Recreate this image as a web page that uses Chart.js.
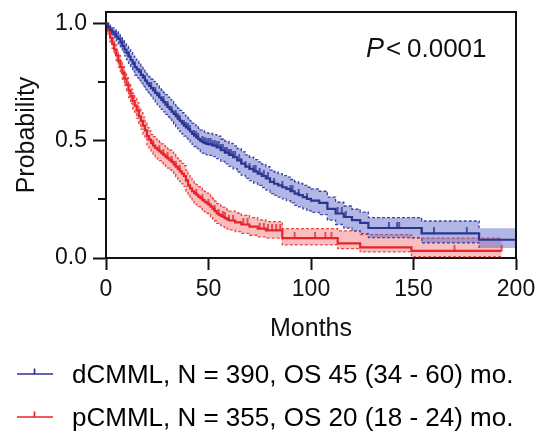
<!DOCTYPE html>
<html>
<head>
<meta charset="utf-8">
<script src="https://cdn.jsdelivr.net/npm/chart.js@4.4.1/dist/chart.umd.min.js"></script>
<style>
  html, body { margin: 0; padding: 0; background: #fff; overflow: hidden; }
</style>
</head>
<body>
<canvas id="km" width="539" height="438"></canvas>
<script>
// dCMML (blue): Kaplan-Meier steps
const blueTimes = [0, 1, 2, 3, 4, 5, 6, 7, 8, 9, 10, 11, 12, 13, 14, 15, 16, 17, 18, 19, 20, 21, 22, 23, 24, 25, 26,
  27, 28, 29, 30, 31, 32, 33, 34, 35, 36, 37, 38, 39, 40, 41, 42, 43, 44, 45, 46, 47, 48, 49, 50,
  52, 54, 56, 58, 60, 62, 64, 66, 68, 70, 72, 74, 76, 78, 80, 82, 84, 86, 88, 90, 92, 94, 96, 98, 100,
  104, 108, 112, 116, 120, 124, 128, 154, 182, 200];
const blueSurv = [1, 0.985, 0.975, 0.965, 0.955, 0.945, 0.935, 0.92, 0.905, 0.89, 0.875, 0.86, 0.845, 0.83, 0.815,
  0.805, 0.795, 0.782, 0.77, 0.757, 0.745, 0.735, 0.725, 0.715, 0.705, 0.695, 0.685, 0.675, 0.665, 0.655, 0.645,
  0.635, 0.625, 0.615, 0.605, 0.595, 0.585, 0.575, 0.565, 0.557, 0.55, 0.54, 0.53, 0.522, 0.515, 0.507, 0.5, 0.495,
  0.49, 0.487, 0.485,
  0.48, 0.472, 0.46, 0.45, 0.44, 0.43, 0.417, 0.403, 0.39, 0.38, 0.37, 0.36, 0.35, 0.34, 0.325, 0.317, 0.31, 0.302,
  0.295, 0.285, 0.275, 0.268, 0.26, 0.252, 0.245,
  0.235, 0.21, 0.19, 0.175, 0.162, 0.15, 0.128, 0.105, 0.078, 0.078];
const blueLow = [1, 0.975, 0.962, 0.948, 0.937, 0.925, 0.912, 0.896, 0.88, 0.863, 0.847, 0.831, 0.814, 0.798, 0.781,
  0.77, 0.759, 0.746, 0.733, 0.72, 0.708, 0.697, 0.687, 0.676, 0.666, 0.655, 0.645, 0.634, 0.624, 0.613, 0.603,
  0.593, 0.582, 0.572, 0.561, 0.551, 0.54, 0.53, 0.52, 0.512, 0.505, 0.495, 0.485, 0.476, 0.469, 0.461, 0.454, 0.448,
  0.443, 0.44, 0.438,
  0.433, 0.424, 0.412, 0.402, 0.391, 0.381, 0.367, 0.353, 0.34, 0.33, 0.32, 0.31, 0.3, 0.29, 0.275, 0.267, 0.26, 0.252,
  0.245, 0.235, 0.225, 0.218, 0.21, 0.202, 0.195,
  0.185, 0.162, 0.143, 0.128, 0.116, 0.104, 0.087, 0.065, 0.043, 0.043];
const blueHigh = [1, 0.995, 0.988, 0.982, 0.973, 0.965, 0.958, 0.944, 0.93, 0.917, 0.903, 0.889, 0.876, 0.862, 0.849,
  0.84, 0.831, 0.818, 0.807, 0.794, 0.782, 0.773, 0.763, 0.754, 0.744, 0.735, 0.725, 0.716, 0.706, 0.697, 0.687,
  0.677, 0.668, 0.658, 0.649, 0.639, 0.63, 0.62, 0.61, 0.602, 0.595, 0.585, 0.575, 0.568, 0.561, 0.553, 0.546, 0.542,
  0.537, 0.534, 0.532,
  0.527, 0.52, 0.508, 0.498, 0.489, 0.479, 0.467, 0.453, 0.44, 0.43, 0.42, 0.41, 0.4, 0.39, 0.375, 0.367, 0.36, 0.352,
  0.345, 0.335, 0.325, 0.318, 0.31, 0.302, 0.295,
  0.285, 0.26, 0.238, 0.222, 0.208, 0.196, 0.172, 0.158, 0.127, 0.127];
const blueCensored = [5, 8, 11, 14, 17, 19, 22, 24, 26, 28, 30, 32, 34, 35, 36, 38, 39, 40, 41, 43, 44, 45, 47, 48, 49,
  50, 51, 52, 53, 54, 55, 56, 57, 58, 59, 60, 61, 62, 63, 65, 66, 68, 70, 72, 73, 75, 77, 79, 82, 86, 90, 91, 94, 98,
  113, 115, 117, 138, 142, 143, 154, 160, 176];
const blueDashEnd = 182; // CI lines stop here, the band goes on to the edge

// pCMML (red)
const redTimes = [0, 1, 2, 3, 4, 5, 6, 7, 8, 9, 10, 11, 12, 13, 14, 15, 16, 17, 18, 19, 20,
  21, 22, 23, 24, 25, 26, 27, 28, 29, 30, 31, 32, 33, 34, 35, 36, 37, 38, 39, 40,
  41, 42, 43, 44, 45, 46, 47, 48, 49, 50, 51, 52, 53, 54, 55, 56, 57, 58, 59, 60,
  63, 66, 70, 74, 78, 86, 113, 124, 149, 193];
const redSurv = [1, 0.97, 0.94, 0.915, 0.89, 0.865, 0.84, 0.815, 0.79, 0.765, 0.74, 0.715, 0.69, 0.67, 0.65, 0.63,
  0.605, 0.585, 0.565, 0.545, 0.52,
  0.505, 0.49, 0.48, 0.47, 0.462, 0.455, 0.447, 0.44, 0.432, 0.425, 0.418, 0.41, 0.4, 0.39, 0.38, 0.37, 0.36, 0.35,
  0.33, 0.31,
  0.297, 0.285, 0.277, 0.27, 0.262, 0.255, 0.247, 0.24, 0.234, 0.228, 0.219, 0.21, 0.2, 0.19, 0.185, 0.18, 0.175,
  0.17, 0.165, 0.16,
  0.152, 0.143, 0.134, 0.125, 0.118, 0.085, 0.062, 0.045, 0.03, 0.03];
const redLow = [1, 0.955, 0.922, 0.895, 0.868, 0.841, 0.815, 0.789, 0.763, 0.737, 0.711, 0.685, 0.659, 0.638, 0.617,
  0.596, 0.57, 0.55, 0.529, 0.509, 0.483,
  0.468, 0.453, 0.442, 0.432, 0.423, 0.416, 0.407, 0.4, 0.391, 0.384, 0.376, 0.368, 0.357, 0.347, 0.336, 0.326, 0.316,
  0.306, 0.286, 0.267,
  0.254, 0.242, 0.234, 0.227, 0.219, 0.212, 0.204, 0.197, 0.191, 0.185, 0.176, 0.167, 0.158, 0.148, 0.143, 0.138,
  0.134, 0.129, 0.124, 0.12,
  0.113, 0.105, 0.097, 0.09, 0.085, 0.056, 0.04, 0.026, 0.006, 0.006];
const redHigh = [1, 0.985, 0.958, 0.935, 0.912, 0.889, 0.865, 0.841, 0.817, 0.793, 0.769, 0.745, 0.721, 0.702, 0.683,
  0.664, 0.64, 0.62, 0.601, 0.581, 0.557,
  0.542, 0.527, 0.518, 0.508, 0.501, 0.494, 0.487, 0.48, 0.473, 0.466, 0.46, 0.452, 0.443, 0.433, 0.424, 0.414, 0.404,
  0.394, 0.374, 0.353,
  0.34, 0.328, 0.32, 0.313, 0.305, 0.298, 0.29, 0.283, 0.277, 0.271, 0.262, 0.253, 0.243, 0.232, 0.227, 0.222, 0.217,
  0.212, 0.206, 0.2,
  0.192, 0.182, 0.172, 0.163, 0.155, 0.125, 0.116, 0.1, 0.085, 0.085];
const redCensored = [9, 13, 18, 23, 26, 28, 30, 32, 34, 36, 40, 44, 47, 50, 53, 55, 57, 58, 60, 62, 67, 69, 75, 77, 79,
  81, 83, 85, 92, 102, 107, 110, 170, 193];

const legendText = ['dCMML, N = 390, OS 45 (34 - 60) mo.', 'pCMML, N = 355, OS 20 (18 - 24) mo.'];
const xTicks = [0, 50, 100, 150, 200];
const yTicks = [0, 0.5, 1.0];
const yMinorTicks = [0.25, 0.75];

const FONT = 'Arial, "Liberation Sans", Helvetica, sans-serif';
const BLUE = '#2B3592';
const BLUE_DASH = '#3A45A4';
const BLUE_FILL = 'rgba(92, 100, 200, 0.47)';
const RED = '#E6242A';
const RED_DASH = '#EC4646';
const RED_FILL = 'rgba(238, 85, 85, 0.38)';

const pts = (T, V) => T.map((t, i) => ({ x: t, y: V[i] }));

// value of a KM step curve at time t
function survAt(T, S, t) {
  let v = S[0];
  for (let i = 0; i < T.length; i++) if (T[i] <= t) v = S[i];
  return v;
}

// small vertical tick above the curve
function censorMark(color) {
  const c = document.createElement('canvas');
  c.width = 4; c.height = 12;
  const g = c.getContext('2d');
  g.strokeStyle = color; g.lineWidth = 1.5;
  g.beginPath(); g.moveTo(2, 0); g.lineTo(2, 6); g.stroke();
  return c;
}

function legendIcon(color) {
  const c = document.createElement('canvas');
  c.width = 42; c.height = 16;
  const g = c.getContext('2d');
  g.strokeStyle = color; g.lineWidth = 1.7;
  g.beginPath();
  g.moveTo(0, 6); g.lineTo(36, 6);
  g.moveTo(17.5, 0.5); g.lineTo(17.5, 6);
  g.stroke();
  return c;
}

function ciSet(T, V, color, fill, bg, dashEnd) {
  return {
    data: pts(T, V), stepped: true, pointRadius: 0, borderWidth: 1.3, borderDash: [3, 2],
    borderColor: color, backgroundColor: bg, fill: fill, order: 2,
    segment: { borderColor: c => (dashEnd !== undefined && c.p0.parsed.x >= dashEnd) ? 'rgba(0,0,0,0)' : color }
  };
}

const decor = {
  id: 'decor',
  afterDraw(chart) {
    const { ctx, chartArea: a, scales: { y } } = chart;
    ctx.save();
    ctx.strokeStyle = '#111';
    ctx.lineWidth = 2;
    ctx.beginPath();
    ctx.moveTo(a.left, a.top); ctx.lineTo(a.right, a.top); ctx.lineTo(a.right, a.bottom);
    yMinorTicks.forEach(v => {
      const py = Math.round(y.getPixelForValue(v));
      ctx.moveTo(a.left, py); ctx.lineTo(a.left - 8, py);
    });
    ctx.stroke();

    ctx.fillStyle = '#111';
    ctx.textBaseline = 'alphabetic';
    ctx.font = 'italic 27px ' + FONT;
    ctx.fillText('P', 366, 57);
    ctx.font = '26px ' + FONT;
    ctx.fillText('<', 386, 57);
    ctx.fillText('0.0001', 407, 57);
    ctx.restore();
  }
};

new Chart(document.getElementById('km'), {
  type: 'line',
  data: {
    datasets: [
      { data: pts(blueTimes, blueSurv), stepped: true, borderColor: BLUE, borderWidth: 2.2, pointRadius: 0, fill: false, order: 1 },
      ciSet(blueTimes, blueHigh, BLUE_DASH, '+1', BLUE_FILL, blueDashEnd),
      ciSet(blueTimes, blueLow, BLUE_DASH, false, BLUE_FILL, blueDashEnd),
      { data: pts(redTimes, redSurv), stepped: true, borderColor: RED, borderWidth: 2.2, pointRadius: 0, fill: false, order: 1 },
      ciSet(redTimes, redHigh, RED_DASH, '+1', RED_FILL),
      ciSet(redTimes, redLow, RED_DASH, false, RED_FILL),
      { type: 'scatter', data: blueCensored.map(t => ({ x: t, y: survAt(blueTimes, blueSurv, t) })),
        pointStyle: censorMark(BLUE), pointRadius: 3, order: 0 },
      { type: 'scatter', data: redCensored.map(t => ({ x: t, y: survAt(redTimes, redSurv, t) })),
        pointStyle: censorMark(RED), pointRadius: 3, order: 0 }
    ]
  },
  options: {
    responsive: false,
    animation: false,
    events: [],
    layout: { padding: { left: 0, right: 23, top: 12, bottom: -4 } },
    plugins: {
      tooltip: { enabled: false },
      legend: {
        position: 'bottom',
        align: 'start',
        labels: {
          usePointStyle: true,
          pointStyleWidth: 42,
          padding: 17,
          color: '#111',
          font: { family: FONT, size: 26 },
          generateLabels: () => [
            { text: legendText[0], pointStyle: legendIcon(BLUE), fillStyle: BLUE, strokeStyle: BLUE, lineWidth: 0, hidden: false, datasetIndex: 0 },
            { text: legendText[1], pointStyle: legendIcon(RED), fillStyle: RED, strokeStyle: RED, lineWidth: 0, hidden: false, datasetIndex: 3 }
          ]
        }
      }
    },
    scales: {
      x: {
        type: 'linear', min: 0, max: 200,
        afterBuildTicks: s => { s.ticks = xTicks.map(v => ({ value: v })); },
        afterFit: s => { s.height = 88; s.paddingLeft = 0; s.paddingRight = 0; },
        ticks: { color: '#111', padding: 6, font: { family: FONT, size: 23 }, maxRotation: 0 },
        grid: { drawOnChartArea: false, tickLength: 12, tickWidth: 2, tickColor: '#111' },
        border: { color: '#111', width: 2 },
        title: { display: true, text: 'Months', color: '#111', font: { family: FONT, size: 25 }, padding: { top: 0, bottom: 2 } }
      },
      y: {
        type: 'linear', min: 0, max: 1.05,
        afterBuildTicks: s => { s.ticks = yTicks.map(v => ({ value: v })); },
        afterFit: s => { s.width = 106; s.paddingTop = 0; s.paddingBottom = 0; },
        ticks: { color: '#111', padding: 6, font: { family: FONT, size: 23 }, callback: v => v.toFixed(1) },
        grid: { drawOnChartArea: false, tickLength: 13, tickWidth: 2, tickColor: '#111' },
        border: { color: '#111', width: 2 },
        title: { display: true, text: 'Probability', color: '#111', font: { family: FONT, size: 25 }, padding: { top: 12, bottom: 0 } }
      }
    }
  },
  plugins: [decor]
});
</script>
</body>
</html>
